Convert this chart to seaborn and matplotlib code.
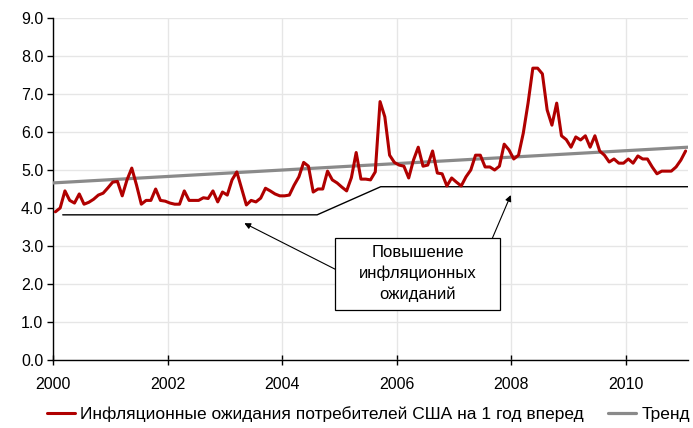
import numpy as np
import pandas as pd
import seaborn as sns
import matplotlib.pyplot as plt
from matplotlib.patches import Rectangle

# monthly values, Jan 2000 - Jan 2011
expect = [
    3.9, 4.0, 4.45, 4.2, 4.13, 4.37, 4.1, 4.15, 4.23, 4.34, 4.39, 4.53,    # 2000
    4.68, 4.7, 4.32, 4.74, 5.05, 4.6, 4.1, 4.2, 4.2, 4.5, 4.2, 4.18,       # 2001
    4.13, 4.1, 4.1, 4.45, 4.2, 4.2, 4.2, 4.27, 4.25, 4.45, 4.16, 4.42,     # 2002
    4.34, 4.74, 4.95, 4.52, 4.08, 4.2, 4.16, 4.26, 4.52, 4.45, 4.37, 4.32, # 2003
    4.32, 4.34, 4.6, 4.82, 5.2, 5.1, 4.42, 4.5, 4.5, 4.97, 4.74, 4.66,     # 2004
    4.55, 4.45, 4.8, 5.46, 4.76, 4.76, 4.74, 4.95, 6.8, 6.4, 5.39, 5.2,    # 2005
    5.13, 5.1, 4.79, 5.26, 5.6, 5.1, 5.13, 5.5, 4.92, 4.9, 4.58, 4.79,     # 2006
    4.68, 4.58, 4.82, 5.0, 5.39, 5.39, 5.08, 5.08, 5.0, 5.1, 5.68, 5.53,   # 2007
    5.29, 5.39, 5.97, 6.76, 7.68, 7.68, 7.53, 6.58, 6.18, 6.76, 5.9, 5.8,  # 2008
    5.6, 5.87, 5.79, 5.9, 5.6, 5.9, 5.5, 5.39, 5.21, 5.29, 5.18, 5.18,     # 2009
    5.29, 5.18, 5.37, 5.29, 5.29, 5.08, 4.9, 4.97, 4.97, 4.97, 5.08, 5.26, # 2010
    5.5,                                                                   # 2011
]
trend_x = [2000.0, 2000 + 133 / 12]
trend_y = [4.66, 5.6]

# annotation guide line (level before / after)
guide_x = [2000.17, 2004.61, 2005.72, 2000 + 133 / 12]
guide_y = [3.82, 3.82, 4.56, 4.56]

x_ticks = [2000, 2002, 2004, 2006, 2008, 2010]
y_ticks = [0, 1, 2, 3, 4, 5, 6, 7, 8, 9]

label_main = "Инфляционные ожидания потребителей США на 1 год вперед"
label_trend = "Тренд"
note = "Повышение\nинфляционных\nожиданий"

sns.set_theme(style="white")
plt.rcParams['font.family'] = ['Liberation Sans', 'DejaVu Sans']
plt.rcParams['text.color'] = 'black'

df = pd.DataFrame({"date": 2000 + (np.arange(len(expect)) + 0.5) / 12,
                   "value": expect})
df_trend = pd.DataFrame({"date": trend_x, "value": trend_y})

fig = plt.figure(figsize=(6.93, 4.28), dpi=100)
ax = fig.add_axes([53 / 693, 1 - 360 / 428, 635 / 693, 342 / 428])

sns.lineplot(data=df, x="date", y="value", ax=ax, color="#b00000",
             linewidth=2.2, label=label_main, zorder=4)
sns.lineplot(data=df_trend, x="date", y="value", ax=ax, color="#8a8a8a",
             linewidth=2.3, label=label_trend, zorder=3)
ax.plot(guide_x, guide_y, color="black", linewidth=1.0, zorder=2)

# arrows from the note box
ax.annotate("", xy=(2003.34, 3.6), xytext=(2004.95, 2.37),
            arrowprops=dict(arrowstyle="-|>", color="black", lw=0.8,
                            mutation_scale=9, shrinkA=0, shrinkB=0))
ax.annotate("", xy=(2007.99, 4.34), xytext=(2007.67, 3.21),
            arrowprops=dict(arrowstyle="-|>", color="black", lw=0.8,
                            mutation_scale=9, shrinkA=0, shrinkB=0))
ax.add_patch(Rectangle((2004.93, 1.32), 2.88, 1.89, facecolor="white",
                       edgecolor="black", linewidth=0.9, zorder=5))
ax.text(2006.37, 2.27, note, ha="center", va="center", fontsize=12,
        linespacing=1.45, zorder=6)

ax.set_xlim(2000, 2000 + 133 / 12)
ax.set_ylim(0, 9)
ax.set_xticks(x_ticks)
ax.set_xticklabels([str(t) for t in x_ticks])
ax.set_yticks(y_ticks)
ax.set_yticklabels([f"{t:.1f}" for t in y_ticks])
ax.set_xlabel("")
ax.set_ylabel("")
ax.grid(True, color="#e6e6e6", linewidth=1.0, zorder=0)
ax.set_axisbelow(True)
for s in ["top", "right"]:
    ax.spines[s].set_visible(False)
for s in ["left", "bottom"]:
    ax.spines[s].set_color("black")
    ax.spines[s].set_linewidth(1.0)
ax.tick_params(axis="y", direction="out", length=4, width=1, colors="black",
               labelsize=11.5, pad=3, left=True)
ax.tick_params(axis="x", direction="inout", length=7, width=1, colors="black",
               labelsize=11.5, pad=9, bottom=True)

ax.get_legend().remove()
h, l = ax.get_legend_handles_labels()
fig.legend(h, l, loc="lower center", bbox_to_anchor=(0.532, -0.022), ncol=2,
           frameon=False, fontsize=12.5, handlelength=1.6, handletextpad=0.3,
           columnspacing=1.4)

fig.savefig("out.png", dpi=100)
